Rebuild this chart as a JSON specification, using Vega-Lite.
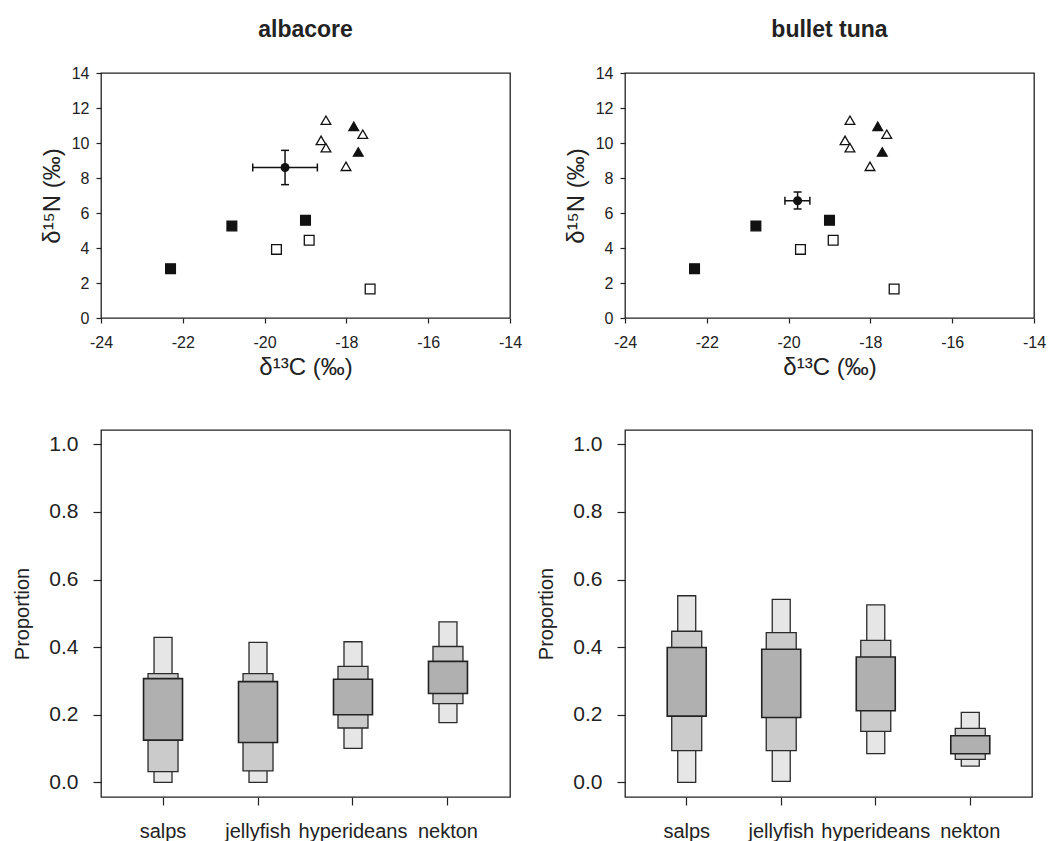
{
  "$schema": "https://vega.github.io/schema/vega-lite/v6.json",
  "background": "white",
  "padding": {"left": 12, "top": 18, "right": 5, "bottom": 5},
  "config": {
    "font": "Liberation Sans",
    "view": {"stroke": "#222", "strokeWidth": 1.3},
    "axis": {"grid": false, "domain": false, "tickColor": "#222", "tickWidth": 1.2, "labelColor": "#222", "titleColor": "#222", "titleFontWeight": "normal", "labelFlush": false, "labelOverlap": false},
    "title": {"fontSize": 23, "fontWeight": "bold", "color": "#222", "frame": "group", "baseline": "alphabetic", "offset": 23}
  },
  "datasets": {
    "iso": [
      {"group": "salps", "d13C": -22.3, "d15N": 2.82},
      {"group": "salps", "d13C": -20.8, "d15N": 5.26},
      {"group": "salps", "d13C": -19.0, "d15N": 5.58},
      {"group": "jellyfish", "d13C": -19.71, "d15N": 3.92},
      {"group": "jellyfish", "d13C": -18.91, "d15N": 4.44},
      {"group": "jellyfish", "d13C": -17.42, "d15N": 1.66},
      {"group": "hyperideans", "d13C": -18.5, "d15N": 11.3},
      {"group": "hyperideans", "d13C": -18.62, "d15N": 10.15},
      {"group": "hyperideans", "d13C": -18.5, "d15N": 9.73},
      {"group": "hyperideans", "d13C": -18.01, "d15N": 8.67},
      {"group": "hyperideans", "d13C": -17.6, "d15N": 10.5},
      {"group": "nekton", "d13C": -17.82, "d15N": 10.95},
      {"group": "nekton", "d13C": -17.71, "d15N": 9.49}
    ],
    "means": [
      {"species": "albacore", "d13C": -19.5, "lo13C": -20.29, "hi13C": -18.71, "d15N": 8.6, "lo15N": 7.62, "hi15N": 9.58},
      {"species": "bullet tuna", "d13C": -19.78, "lo13C": -20.09, "hi13C": -19.48, "d15N": 6.7, "lo15N": 6.23, "hi15N": 7.2}
    ],
    "mix": [
      {"species": "albacore", "source": "salps", "lo95": 0.0, "hi95": 0.429, "lo75": 0.032, "hi75": 0.322, "lo50": 0.125, "hi50": 0.307},
      {"species": "albacore", "source": "jellyfish", "lo95": 0.0, "hi95": 0.414, "lo75": 0.034, "hi75": 0.322, "lo50": 0.118, "hi50": 0.298},
      {"species": "albacore", "source": "hyperideans", "lo95": 0.101, "hi95": 0.416, "lo75": 0.161, "hi75": 0.343, "lo50": 0.2, "hi50": 0.305},
      {"species": "albacore", "source": "nekton", "lo95": 0.177, "hi95": 0.475, "lo75": 0.233, "hi75": 0.402, "lo50": 0.263, "hi50": 0.358},
      {"species": "bullet tuna", "source": "salps", "lo95": 0.0, "hi95": 0.552, "lo75": 0.094, "hi75": 0.447, "lo50": 0.196, "hi50": 0.399},
      {"species": "bullet tuna", "source": "jellyfish", "lo95": 0.003, "hi95": 0.541, "lo75": 0.094, "hi75": 0.443, "lo50": 0.192, "hi50": 0.394},
      {"species": "bullet tuna", "source": "hyperideans", "lo95": 0.085, "hi95": 0.525, "lo75": 0.151, "hi75": 0.42, "lo50": 0.212, "hi50": 0.371},
      {"species": "bullet tuna", "source": "nekton", "lo95": 0.048, "hi95": 0.207, "lo75": 0.068, "hi75": 0.16, "lo50": 0.085, "hi50": 0.138}
    ]
  },
  "columns": 2,
  "spacing": {"row": 112, "column": 115},
  "bounds": "flush",
  "concat": [
    {
      "title": {"text": "albacore"},
      "width": 409, "height": 245,
      "encoding": {
        "x": {"field": "d13C", "type": "quantitative", "title": "δ¹³C (‰)", "scale": {"domain": [-24, -14], "nice": false, "zero": false},
          "axis": {"values": [-24, -22, -20, -18, -16, -14], "labelExpr": "'' + datum.value", "labelFontSize": 16, "titleFontSize": 24, "tickSize": 5, "labelPadding": 11, "titlePadding": 5}},
        "y": {"field": "d15N", "type": "quantitative", "title": "δ¹⁵N (‰)", "scale": {"domain": [0, 14], "nice": false, "zero": false},
          "axis": {"values": [0, 2, 4, 6, 8, 10, 12, 14], "labelFontSize": 16, "titleFontSize": 24, "tickSize": 5, "labelPadding": 7, "titlePadding": 7}}
      },
      "layer": [
        {
          "data": {"name": "iso"},
          "mark": {"type": "point", "stroke": "#111", "strokeWidth": 1.3, "opacity": 1},
          "encoding": {
            "shape": {"field": "group", "type": "nominal", "legend": null, "scale": {"domain": ["salps", "jellyfish", "hyperideans", "nekton"], "range": ["square", "square", "triangle-up", "triangle-up"]}},
            "fill": {"field": "group", "type": "nominal", "legend": null, "scale": {"domain": ["salps", "jellyfish", "hyperideans", "nekton"], "range": ["#111", "white", "white", "#111"]}},
            "size": {"field": "group", "type": "nominal", "legend": null, "scale": {"domain": ["salps", "jellyfish", "hyperideans", "nekton"], "range": [95, 95, 130, 130]}}
          }
        },
        {
          "data": {"name": "means"}, "transform": [{"filter": "datum.species === 'albacore'"}],
          "mark": {"type": "rule", "color": "#111", "strokeWidth": 1.5},
          "encoding": {"x": {"field": "lo13C", "type": "quantitative", "title": "δ¹³C (‰)"}, "x2": {"field": "hi13C"}}
        },
        {
          "data": {"name": "means"}, "transform": [{"filter": "datum.species === 'albacore'"}],
          "mark": {"type": "rule", "color": "#111", "strokeWidth": 1.5},
          "encoding": {"y": {"field": "lo15N", "type": "quantitative", "title": "δ¹⁵N (‰)"}, "y2": {"field": "hi15N"}}
        },
        {
          "data": {"name": "means"}, "transform": [{"filter": "datum.species === 'albacore'"}, {"fold": ["lo13C", "hi13C"], "as": ["end", "capX"]}],
          "mark": {"type": "tick", "orient": "vertical", "size": 8, "thickness": 1.5, "color": "#111", "opacity": 1},
          "encoding": {"x": {"field": "capX", "type": "quantitative", "title": "δ¹³C (‰)"}}
        },
        {
          "data": {"name": "means"}, "transform": [{"filter": "datum.species === 'albacore'"}, {"fold": ["lo15N", "hi15N"], "as": ["end", "capY"]}],
          "mark": {"type": "tick", "orient": "horizontal", "size": 8, "thickness": 1.5, "color": "#111", "opacity": 1},
          "encoding": {"y": {"field": "capY", "type": "quantitative", "title": "δ¹⁵N (‰)"}}
        },
        {
          "data": {"name": "means"}, "transform": [{"filter": "datum.species === 'albacore'"}],
          "mark": {"type": "point", "shape": "circle", "filled": true, "size": 80, "color": "#111", "opacity": 1},
          "encoding": {}
        }
      ]
    },
    {
      "title": {"text": "bullet tuna"},
      "width": 409, "height": 245,
      "encoding": {
        "x": {"field": "d13C", "type": "quantitative", "title": "δ¹³C (‰)", "scale": {"domain": [-24, -14], "nice": false, "zero": false},
          "axis": {"values": [-24, -22, -20, -18, -16, -14], "labelExpr": "'' + datum.value", "labelFontSize": 16, "titleFontSize": 24, "tickSize": 5, "labelPadding": 11, "titlePadding": 5}},
        "y": {"field": "d15N", "type": "quantitative", "title": "δ¹⁵N (‰)", "scale": {"domain": [0, 14], "nice": false, "zero": false},
          "axis": {"values": [0, 2, 4, 6, 8, 10, 12, 14], "labelFontSize": 16, "titleFontSize": 24, "tickSize": 5, "labelPadding": 7, "titlePadding": 7}}
      },
      "layer": [
        {
          "data": {"name": "iso"},
          "mark": {"type": "point", "stroke": "#111", "strokeWidth": 1.3, "opacity": 1},
          "encoding": {
            "shape": {"field": "group", "type": "nominal", "legend": null, "scale": {"domain": ["salps", "jellyfish", "hyperideans", "nekton"], "range": ["square", "square", "triangle-up", "triangle-up"]}},
            "fill": {"field": "group", "type": "nominal", "legend": null, "scale": {"domain": ["salps", "jellyfish", "hyperideans", "nekton"], "range": ["#111", "white", "white", "#111"]}},
            "size": {"field": "group", "type": "nominal", "legend": null, "scale": {"domain": ["salps", "jellyfish", "hyperideans", "nekton"], "range": [95, 95, 130, 130]}}
          }
        },
        {
          "data": {"name": "means"}, "transform": [{"filter": "datum.species === 'bullet tuna'"}],
          "mark": {"type": "rule", "color": "#111", "strokeWidth": 1.5},
          "encoding": {"x": {"field": "lo13C", "type": "quantitative", "title": "δ¹³C (‰)"}, "x2": {"field": "hi13C"}}
        },
        {
          "data": {"name": "means"}, "transform": [{"filter": "datum.species === 'bullet tuna'"}],
          "mark": {"type": "rule", "color": "#111", "strokeWidth": 1.5},
          "encoding": {"y": {"field": "lo15N", "type": "quantitative", "title": "δ¹⁵N (‰)"}, "y2": {"field": "hi15N"}}
        },
        {
          "data": {"name": "means"}, "transform": [{"filter": "datum.species === 'bullet tuna'"}, {"fold": ["lo13C", "hi13C"], "as": ["end", "capX"]}],
          "mark": {"type": "tick", "orient": "vertical", "size": 8, "thickness": 1.5, "color": "#111", "opacity": 1},
          "encoding": {"x": {"field": "capX", "type": "quantitative", "title": "δ¹³C (‰)"}}
        },
        {
          "data": {"name": "means"}, "transform": [{"filter": "datum.species === 'bullet tuna'"}, {"fold": ["lo15N", "hi15N"], "as": ["end", "capY"]}],
          "mark": {"type": "tick", "orient": "horizontal", "size": 8, "thickness": 1.5, "color": "#111", "opacity": 1},
          "encoding": {"y": {"field": "capY", "type": "quantitative", "title": "δ¹⁵N (‰)"}}
        },
        {
          "data": {"name": "means"}, "transform": [{"filter": "datum.species === 'bullet tuna'"}],
          "mark": {"type": "point", "shape": "circle", "filled": true, "size": 80, "color": "#111", "opacity": 1},
          "encoding": {}
        }
      ]
    },
    {
      "width": 409, "height": 367,
      "data": {"name": "mix"},
      "transform": [{"filter": "datum.species === 'albacore'"}],
      "encoding": {
        "x": {"field": "source", "type": "nominal", "title": null, "sort": ["salps", "jellyfish", "hyperideans", "nekton"],
          "scale": {"paddingInner": 0, "paddingOuter": 0.153},
          "axis": {"labelAngle": 0, "labelFontSize": 20, "tickSize": 8, "labelPadding": 16}},
        "y": {"field": "lo95", "type": "quantitative", "title": "Proportion",
          "scale": {"domain": [-0.043, 1.042], "nice": false, "zero": false},
          "axis": {"values": [0, 0.2, 0.4, 0.6, 0.8, 1.0], "format": ".1f", "labelFontSize": 21, "titleFontSize": 20, "tickSize": 8, "labelPadding": 15, "titlePadding": 16}}
      },
      "layer": [
        {"mark": {"type": "bar", "width": 18, "fill": "#e6e6e6", "stroke": "#2a2a2a", "strokeWidth": 1.3}, "encoding": {"y2": {"field": "hi95"}}},
        {"mark": {"type": "bar", "width": 30, "fill": "#cbcbcb", "stroke": "#2a2a2a", "strokeWidth": 1.3}, "encoding": {"y": {"field": "lo75", "type": "quantitative", "title": "Proportion"}, "y2": {"field": "hi75"}}},
        {"mark": {"type": "bar", "width": 39, "fill": "#b0b0b0", "stroke": "#222", "strokeWidth": 1.6}, "encoding": {"y": {"field": "lo50", "type": "quantitative", "title": "Proportion"}, "y2": {"field": "hi50"}}}
      ]
    },
    {
      "width": 407, "height": 367,
      "data": {"name": "mix"},
      "transform": [{"filter": "datum.species === 'bullet tuna'"}],
      "encoding": {
        "x": {"field": "source", "type": "nominal", "title": null, "sort": ["salps", "jellyfish", "hyperideans", "nekton"],
          "scale": {"paddingInner": 0, "paddingOuter": 0.153},
          "axis": {"labelAngle": 0, "labelFontSize": 20, "tickSize": 8, "labelPadding": 16}},
        "y": {"field": "lo95", "type": "quantitative", "title": "Proportion",
          "scale": {"domain": [-0.043, 1.042], "nice": false, "zero": false},
          "axis": {"values": [0, 0.2, 0.4, 0.6, 0.8, 1.0], "format": ".1f", "labelFontSize": 21, "titleFontSize": 20, "tickSize": 8, "labelPadding": 15, "titlePadding": 16}}
      },
      "layer": [
        {"mark": {"type": "bar", "width": 18, "fill": "#e6e6e6", "stroke": "#2a2a2a", "strokeWidth": 1.3}, "encoding": {"y2": {"field": "hi95"}}},
        {"mark": {"type": "bar", "width": 30, "fill": "#cbcbcb", "stroke": "#2a2a2a", "strokeWidth": 1.3}, "encoding": {"y": {"field": "lo75", "type": "quantitative", "title": "Proportion"}, "y2": {"field": "hi75"}}},
        {"mark": {"type": "bar", "width": 39, "fill": "#b0b0b0", "stroke": "#222", "strokeWidth": 1.6}, "encoding": {"y": {"field": "lo50", "type": "quantitative", "title": "Proportion"}, "y2": {"field": "hi50"}}}
      ]
    }
  ]
}
